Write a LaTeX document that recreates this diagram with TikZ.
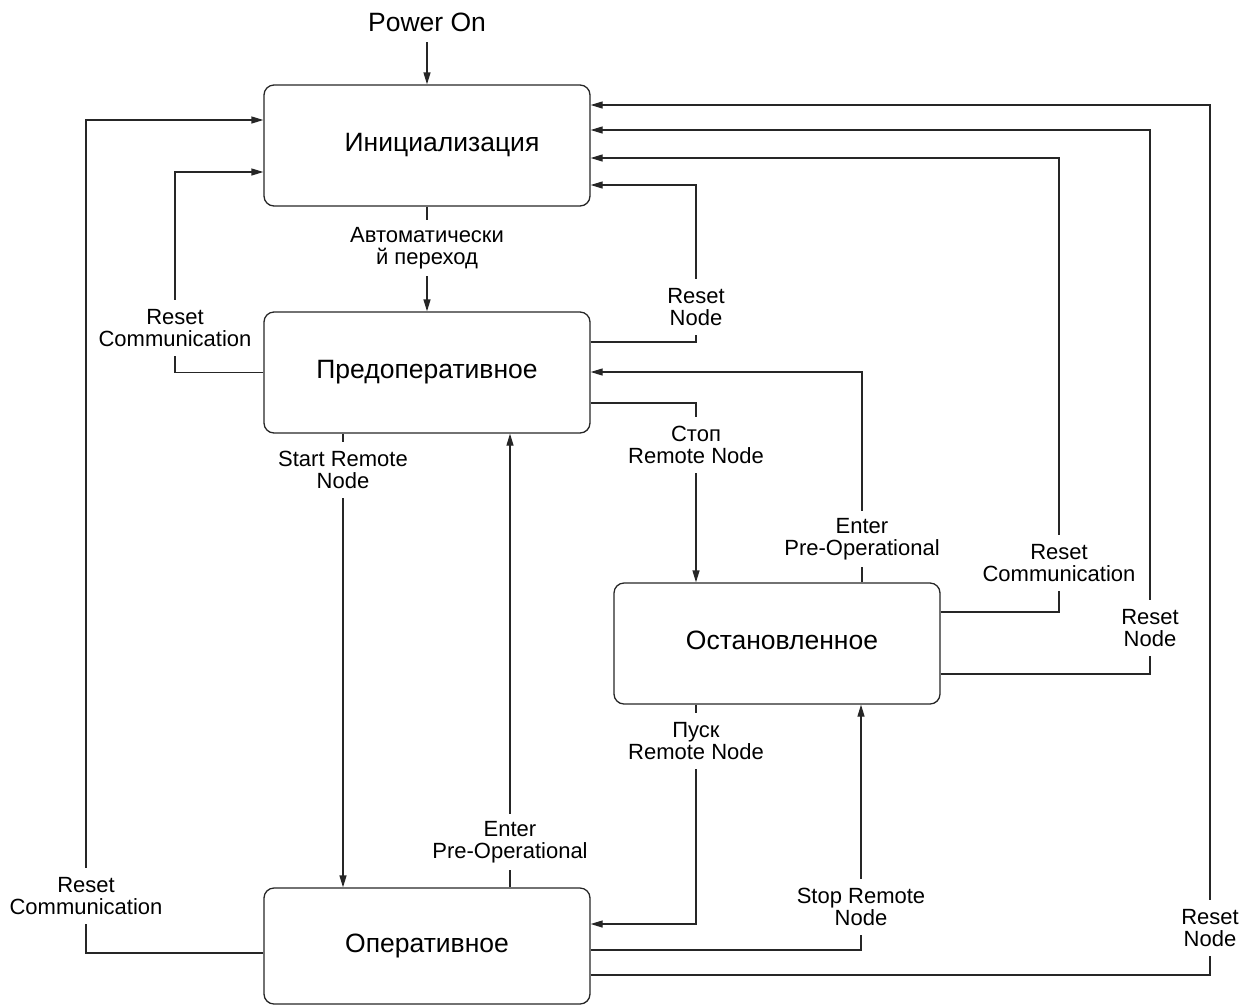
\documentclass[tikz,border=0pt]{standalone}
\usepackage{fontspec}
\setmainfont{Liberation Sans}
\usetikzlibrary{arrows.meta,calc}
\tikzset{
  ln/.style={draw=black!85,line width=1.3pt},
  arr/.style={ln,-{Triangle[length=12pt,width=7pt]}},
  statebox/.style={draw=black!85,line width=1.3pt,rounded corners=10pt,minimum width=326pt,minimum height=121pt,inner sep=0pt,font=\fontsize{26.5}{28}\selectfont},
  lbl/.style={align=center,inner sep=0pt,minimum height=56pt,font=\fontsize{22}{22}\selectfont,yshift=2pt}
}
\begin{document}
\begin{tikzpicture}[x=1pt,y=-1pt]
\useasboundingbox (0,0) rectangle (1241,1005);
% states
\node[statebox] (I) at (427,145.5) {\raisebox{-2pt}{\hspace*{30pt}Инициализация}};
\node[statebox] (P) at (427,372.5) {Предоперативное};
\node[statebox] (S) at (777,643.5) {\raisebox{6pt}{\hspace*{10pt}Остановленное}};
\node[statebox,minimum height=116pt] (O) at (427,946) {Оперативное};
% power on
\node[font=\fontsize{26.5}{28}\selectfont,inner sep=0pt] (pw) at (427,22) {Power On};
\coordinate (pwE) at (427,42);
\draw[arr] (pwE) -- (I.north);
% labels
\node[lbl] (lAuto) at (427,250) {Автоматически\\й переход};
\node[lbl] (lRCP) at (175,330) {Reset\\Communication};
\node[lbl] (lRNP) at (696,309) {Reset\\Node};
\node[lbl] (lStop) at (696,447) {Стоп\\Remote Node};
\node[lbl] (lEnS) at (862,541) {Enter\\Pre-Operational};
\node[lbl] (lRCS) at (1059,565) {Reset\\Communication};
\node[lbl] (lRNS) at (1150,630) {Reset\\Node};
\node[lbl] (lStart) at (343,472) {Start Remote\\Node};
\node[lbl] (lEnO) at (510,844) {Enter\\Pre-Operational};
\node[lbl] (lRCO) at (86,898) {Reset\\Communication};
\node[lbl] (lPusk) at (696,743) {Пуск\\Remote Node};
\node[lbl] (lSR) at (861,909) {Stop Remote\\Node};
\node[lbl] (lRNO) at (1210,930) {Reset\\Node};
% connectors
\draw[ln] (I.south) -- (lAuto.north);
\draw[arr] (lAuto.south) -- (P.north);
\draw[ln] (P.west) -| (lRCP.south);
\draw[arr] (lRCP.north) |- (I.west |- 0,172);
\draw[ln] (O.west |- 0,953) -| (lRCO.south);
\draw[arr] (lRCO.north) |- (I.west |- 0,120);
\draw[ln] (P.east |- 0,342) -| (lRNP.south);
\draw[arr] (lRNP.north) |- (I.east |- 0,185);
\draw[ln] (P.east |- 0,403) -| (lStop.north);
\draw[arr] (lStop.south) -- (lStop.south |- S.north);
\draw[ln] (S.north -| lEnS) -- (lEnS.south);
\draw[arr] (lEnS.north) |- (P.east |- 0,372);
\draw[ln] (S.east |- 0,612) -| (lRCS.south);
\draw[arr] (lRCS.north) |- (I.east |- 0,158);
\draw[ln] (S.east |- 0,674) -| (lRNS.south);
\draw[arr] (lRNS.north) |- (I.east |- 0,130);
\draw[ln] (P.south -| lStart) -- (lStart.north);
\draw[arr] (lStart.south) -- (lStart.south |- O.north);
\draw[ln] (O.north -| lEnO) -- (lEnO.south);
\draw[arr] (lEnO.north) -- (lEnO.north |- P.south);
\draw[ln] (S.south -| lPusk) -- (lPusk.north);
\draw[arr] (lPusk.south) |- (O.east |- 0,924);
\draw[ln] (O.east |- 0,950) -| (lSR.south);
\draw[arr] (lSR.north) -- (lSR.north |- S.south);
\draw[ln] (O.east |- 0,975) -| (lRNO.south);
\draw[arr] (lRNO.north) |- (I.east |- 0,105);
\end{tikzpicture}
\end{document}
